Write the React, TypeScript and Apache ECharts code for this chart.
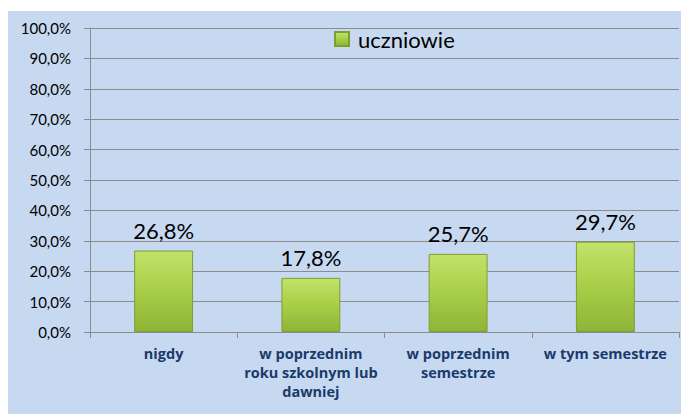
import React, { useEffect, useRef } from "react";
import * as echarts from "echarts";

const categories = ["nigdy", "w poprzednim\nroku szkolnym lub\ndawniej", "w poprzednim\nsemestrze", "w tym semestrze"];
const seriesName = "uczniowie";
const values = [26.8, 17.8, 25.7, 29.7];
const yTicks = { min: 0, max: 100, interval: 10 };

const fmt = (v: number) => v.toFixed(1).replace(".", ",") + "%";

export default function App() {
  const ref = useRef<HTMLDivElement>(null);
  useEffect(() => {
    if (!ref.current) return;
    const chart = echarts.init(ref.current, null, { renderer: "svg" });
    const barColor = new echarts.graphic.LinearGradient(0, 0, 0, 1, [
      { offset: 0, color: "#c2e26a" },
      { offset: 0.5, color: "#a8ce48" },
      { offset: 1, color: "#8fb438" },
    ]);
    chart.setOption({
      animation: false,
      backgroundColor: "#c6d9f1",
      textStyle: { fontFamily: "Lato" },
      legend: {
        data: [{ name: seriesName, icon: "rect" }],
        left: 321,
        top: 12,
        itemWidth: 14,
        itemHeight: 14,
        itemGap: 6,
        textStyle: { fontSize: 22, color: "#000", fontFamily: "Lato", padding: [0, 0, 0, 4] },
      },
      grid: { left: 82, right: 10, top: 17, bottom: 82 },
      xAxis: {
        type: "category",
        data: categories,
        axisLine: { lineStyle: { color: "#8c8c8c", width: 1 } },
        axisTick: { show: true, length: 6, lineStyle: { color: "#8c8c8c" } },
        axisLabel: {
          interval: 0,
          margin: 12,
          fontSize: 14.5,
          fontWeight: "bold",
          lineHeight: 19,
          color: "#1b3a6b",
          fontFamily: "Open Sans",
        },
      },
      yAxis: {
        type: "value",
        min: yTicks.min,
        max: yTicks.max,
        interval: yTicks.interval,
        axisLine: { show: true, lineStyle: { color: "#8c8c8c" } },
        axisTick: { show: true, length: 6, lineStyle: { color: "#8c8c8c" } },
        splitLine: { lineStyle: { color: "#8c8c8c", width: 1 } },
        axisLabel: {
          margin: 19,
          fontSize: 15,
          color: "#000",
          fontFamily: "Lato",
          formatter: (v: number) => fmt(v),
        },
      },
      series: [
        {
          name: seriesName,
          type: "bar",
          data: values,
          barWidth: "40%",
          itemStyle: { color: barColor, borderColor: "#7e9e30", borderWidth: 1 },
          label: {
            show: true,
            position: "top",
            distance: 9,
            fontSize: 22,
            color: "#000",
            fontFamily: "Lato",
            formatter: (p: any) => fmt(p.value),
          },
        },
      ],
    });
    return () => chart.dispose();
  }, []);
  return (
    <div style={{ paddingTop: 3 }}>
      <div ref={ref} style={{ width: 681, height: 403 }} />
    </div>
  );
}
